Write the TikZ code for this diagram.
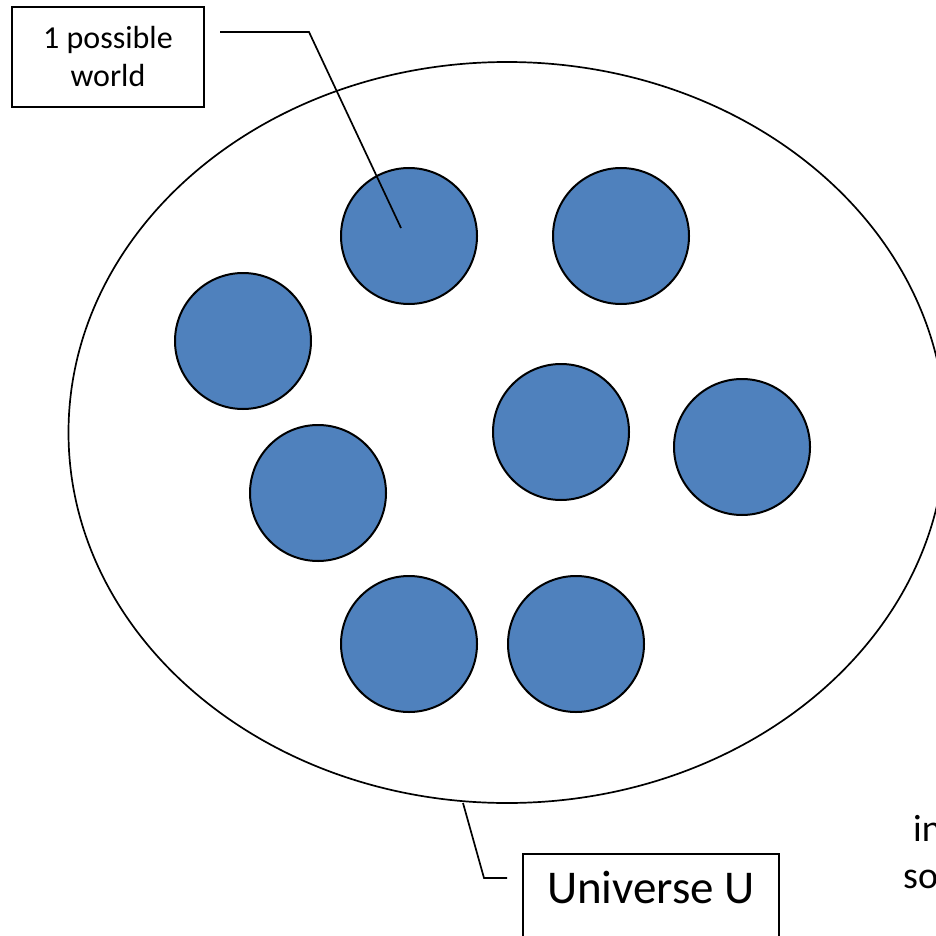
\documentclass[tikz,border=0pt]{standalone}
\usepackage{fontspec}
\setmainfont{Carlito}
\usetikzlibrary{shapes.geometric}
\definecolor{worldblue}{HTML}{4F81BD}
\tikzset{
  world/.style={circle, draw=black, line width=2pt, fill=worldblue,
    minimum size=136pt, inner sep=0pt},
  callout/.style={draw=black, line width=1.6pt, fill=white, inner sep=0pt},
  leader/.style={draw=black, line width=1.7pt},
}
\begin{document}
\begin{tikzpicture}[x=1pt, y=-1pt]
  \useasboundingbox (0,0) rectangle (936,936);
  \clip (0,0) rectangle (936,936);
  \fill[white] (0,0) rectangle (936,936);

  % the universe
  \node[ellipse, draw=black, line width=1.7pt, minimum width=877pt,
    minimum height=741pt, inner sep=0pt] (universe) at (507,432.5) {};

  % possible worlds
  \node[world] (w1) at (409,236) {};
  \node[world] (w2) at (621,236) {};
  \node[world] (w3) at (243,341) {};
  \node[world] (w4) at (561,432) {};
  \node[world] (w5) at (742,447) {};
  \node[world] (w6) at (318,493) {};
  \node[world] (w7) at (409,644) {};
  \node[world] (w8) at (576,644) {};

  % callout for one world
  \node[callout, minimum width=192pt, minimum height=100pt, align=center,
    font=\fontsize{32pt}{38pt}\selectfont] (label1) at (108,57)
    {1 possible\\world};
  \coordinate (lead1a) at (220,32);
  \coordinate (lead1b) at (309,32);
  \coordinate (lead1c) at (401,228);
  \draw[leader] (lead1a) -- (lead1b) -- (lead1c);

  % callout for the universe
  \node[callout, minimum width=256pt, text height=49pt, text depth=40pt,
    anchor=base, font=\fontsize{47pt}{56pt}\selectfont] (labelU) at (651,903)
    {Universe U};
  \coordinate (leadUa) at (463,803);
  \coordinate (leadUb) at (484,878);
  \coordinate (leadUc) at (507,878);
  \draw[leader] (leadUa) -- (leadUb) -- (leadUc);

  % text running off the right edge
  \node[anchor=base west, inner sep=0pt, font=\fontsize{38pt}{47pt}\selectfont]
    (side1) at (913,841) {in};
  \node[anchor=base west, inner sep=0pt, font=\fontsize{38pt}{47pt}\selectfont]
    (side2) at (903,888) {so};
\end{tikzpicture}
\end{document}
